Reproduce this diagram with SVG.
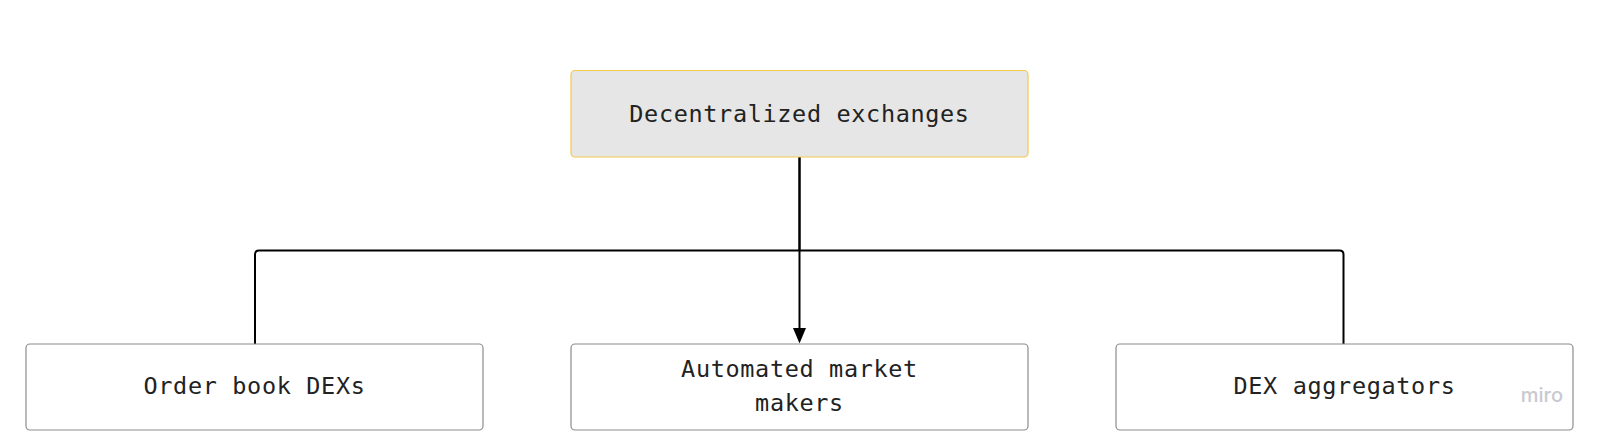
<svg xmlns="http://www.w3.org/2000/svg" width="1600" height="440" viewBox="0 0 1600 440">
<style>
.box{fill:#ffffff;stroke:#8c8c8c;stroke-width:1.2}
.root{fill:#e6e6e6;stroke:#f2c94c;stroke-width:1.2}
.lbl{font-family:"DejaVu Sans Mono","Liberation Mono",monospace;font-size:23.5px;fill:#222222;text-anchor:middle;letter-spacing:0.65px}
.conn{fill:none;stroke:#000000;stroke-width:2}
</style>
<rect width="1600" height="440" fill="#ffffff"/>
<g id="connectors">
<path class="conn" d="M799.5,157 V250.5 H259 Q255,250.5 255,254.5 V344"/>
<path class="conn" d="M799.5,250.5 H1339.5 Q1343.5,250.5 1343.5,254.5 V344"/>
<path class="conn" d="M799.5,157 V330"/>
<path d="M793,328 L806,328 L799.5,343.5 Z" fill="#000"/>
</g>
<g id="node-root">
<rect class="root" x="571" y="70.5" width="457" height="86.5" rx="4"/>
<text class="lbl" x="799.5" y="121.5">Decentralized exchanges</text>
</g>
<g id="node-orderbook">
<rect class="box" x="26" y="344" width="457" height="86" rx="4"/>
<text class="lbl" x="254.5" y="394">Order book DEXs</text>
</g>
<g id="node-amm">
<rect class="box" x="571" y="344" width="457" height="86" rx="4"/>
<text class="lbl" x="799.5" y="377">Automated market</text>
<text class="lbl" x="799.5" y="411">makers</text>
</g>
<g id="node-aggregators">
<rect class="box" x="1116" y="344" width="457" height="86" rx="4"/>
<text class="lbl" x="1344.5" y="394">DEX aggregators</text>
</g>
<text x="1563" y="402" font-family="Inter, 'Noto Sans', sans-serif" font-size="20" font-weight="500" fill="#c9c9d1" text-anchor="end">miro</text>
</svg>
